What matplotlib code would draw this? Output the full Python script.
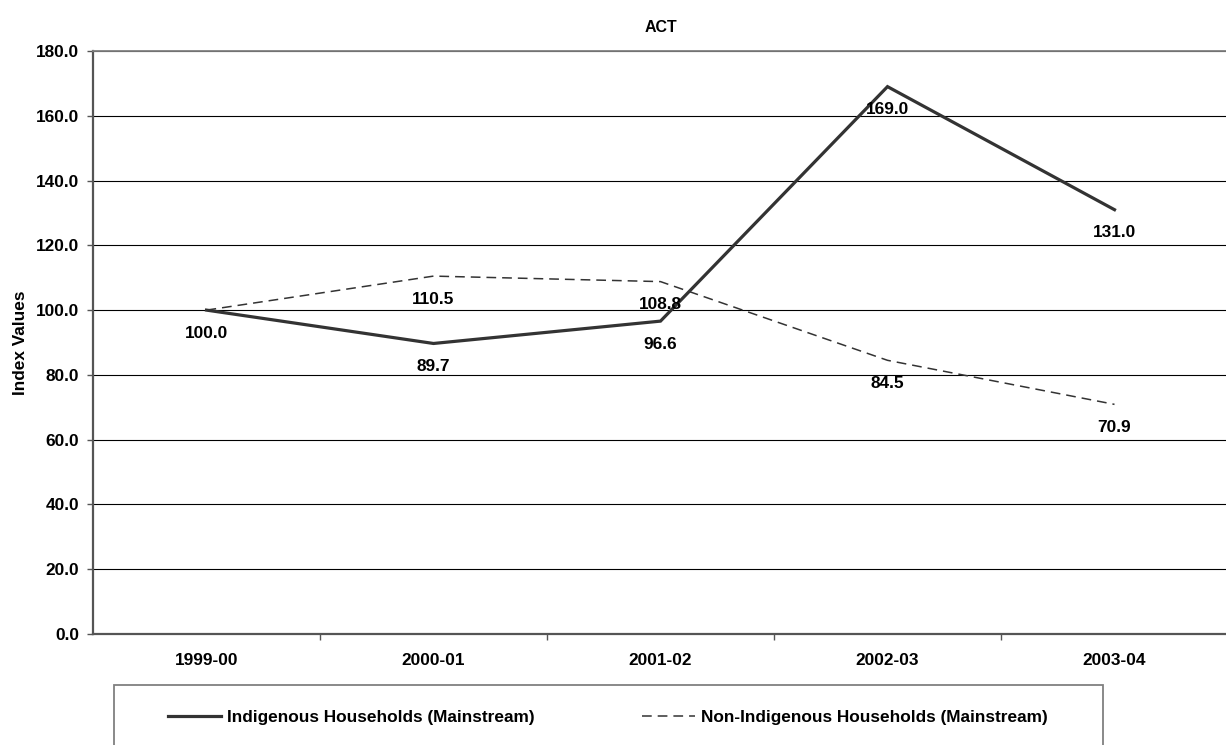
import matplotlib
matplotlib.use("Agg")
import matplotlib.pyplot as plt
from matplotlib.patches import Rectangle

# data
years = ["1999-00", "2000-01", "2001-02", "2002-03", "2003-04"]
indigenous = [100.0, 89.7, 96.6, 169.0, 131.0]
non_indigenous = [100.0, 110.5, 108.8, 84.5, 70.9]
y_ticks = [0, 20, 40, 60, 80, 100, 120, 140, 160, 180]

plt.rcParams["font.family"] = ["Liberation Sans", "DejaVu Sans"]
plt.rcParams["font.weight"] = "bold"
plt.rcParams["font.size"] = 12.4
plt.rcParams["lines.scale_dashes"] = False

W, H = 1226, 745
fig = plt.figure(figsize=(W / 100, H / 100), dpi=100)
ax = fig.add_axes([93 / W, 1 - 634 / H, 1135 / W, (634 - 51) / H])

x = list(range(len(years)))
ax.plot(x, indigenous, color="#333333", lw=2.3, solid_joinstyle="miter",
        label="Indigenous Households (Mainstream)", zorder=3)
ax.plot(x, non_indigenous, color="#333333", lw=1.1, dashes=(7, 4.3),
        label="Non-Indigenous Households (Mainstream)", zorder=3)

# data labels under points (skip a repeated label on the shared start point)
done = set()
for series in (indigenous, non_indigenous):
    for xi, v in zip(x, series):
        if (xi, v) in done:
            continue
        done.add((xi, v))
        ax.annotate(f"{v:.1f}", (xi, v), xytext=(0, -16.5), textcoords="offset points",
                    ha="center", va="center", fontweight="bold", zorder=4)

ax.set_xlim(-0.5, len(years) - 0.5)
ax.set_ylim(0, 180)
ax.set_yticks(y_ticks)
ax.set_yticklabels([f"{v:.1f}" for v in y_ticks])
ax.set_xticks(x)
ax.set_xticklabels(years)
ax.set_xticks([i + 0.5 for i in x[:-1]], minor=True)
ax.tick_params(axis="x", which="major", length=0, pad=14)
ax.tick_params(axis="x", which="minor", length=4, width=1, color="#555555", direction="out")
ax.tick_params(axis="y", length=4, width=1, color="#555555", pad=6)

ax.grid(axis="y", color="black", lw=0.8)
ax.set_axisbelow(True)
for side in ("left", "bottom"):
    ax.spines[side].set_color("#555555")
    ax.spines[side].set_linewidth(1.6)
ax.spines["top"].set_color("#808080")
ax.spines["top"].set_linewidth(1.3)
ax.spines["right"].set_visible(False)

ax.set_title("ACT", fontsize=11.5, fontweight="bold", pad=14)
ax.set_ylabel("Index Values", fontweight="bold")
ax.yaxis.set_label_coords(-65 / 1135, 0.5)

# legend box at the bottom
fig.patches.append(Rectangle((114 / W, -0.05), (1103 - 114) / W, (745 - 685) / H + 0.05,
                             transform=fig.transFigure, fill=False,
                             edgecolor="#808080", lw=1.3))
fig.legend(loc="center left", bbox_to_anchor=(168 / W, 1 - 717 / H), ncol=2,
           frameon=False, borderpad=0, borderaxespad=0, handlelength=3.1,
           handletextpad=0.35, columnspacing=6.2)

fig.savefig("out.png", dpi=100)
